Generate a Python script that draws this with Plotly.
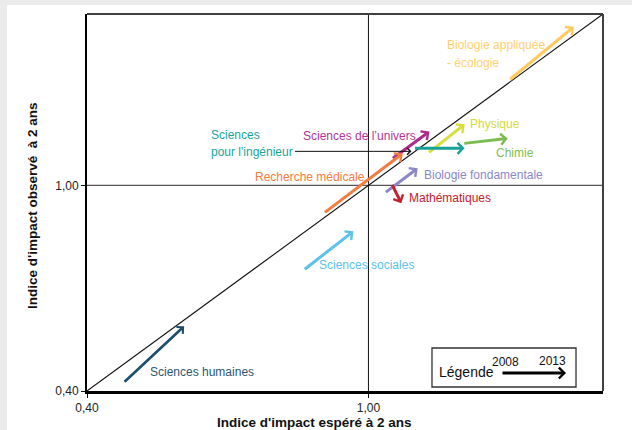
import plotly.graph_objects as go

# Impact indices by discipline, 2008 -> 2013
disciplines = [
    "Biologie appliquée - écologie", "Sciences de l’univers", "Physique",
    "Sciences pour l'ingénieur", "Chimie", "Biologie fondamentale",
    "Mathématiques", "Recherche médicale", "Sciences sociales", "Sciences humaines",
]
expected_2008 = [1.299, 1.049, 1.126, 1.096, 1.201, 1.034, 1.049, 0.904, 0.861, 0.477]
observed_2008 = [1.306, 1.076, 1.093, 1.108, 1.122, 0.977, 1.006, 0.918, 0.752, 0.423]
expected_2013 = [1.438, 1.130, 1.205, 1.205, 1.297, 1.105, 1.070, 1.073, 0.968, 0.607]
observed_2013 = [1.463, 1.157, 1.178, 1.108, 1.137, 1.050, 0.948, 1.093, 0.866, 0.589]
colors = ["#FFC95C", "#AE2A8E", "#D8DE38", "#17A19A", "#7CBC4F",
          "#8B87C8", "#C4202C", "#F47C3E", "#5CC1EC", "#1D4E6D"]
widths = [3, 3, 3, 3, 3, 3, 3, 3, 3, 2.6]

# Text labels: (text, left x, centre y, colour)
labels = [
    ("Biologie appliquée", 1.164, 1.411, "#FFD06E"),
    ("- écologie", 1.164, 1.358, "#FFD06E"),
    ("Sciences de l’univers", 0.857, 1.143, "#B0359A"),
    ("Physique", 1.213, 1.178, "#D2DA3E"),
    ("Chimie", 1.267, 1.093, "#80BE55"),
    ("Biologie fondamentale", 1.115, 1.029, "#8B87C8"),
    ("Mathématiques", 1.083, 0.962, "#C4202C"),
    ("Recherche médicale", 0.754, 1.023, "#F47C3E"),
    ("Sciences", 0.660, 1.146, "#1AA39B"),
    ("pour l'ingénieur", 0.660, 1.096, "#1AA39B"),
    ("Sciences sociales", 0.891, 0.767, "#5CC1EC"),
    ("Sciences humaines", 0.530, 0.455, "#2B5676"),
]

axis_min, axis_max = 0.4, 1.5
tick_vals = [0.4, 1.0]
tick_text = ["0,40", "1,00"]

fig = go.Figure()
# invisible trace so the axes are created
fig.add_trace(go.Scatter(x=[axis_min, axis_max], y=[axis_min, axis_max],
                         mode="markers", marker=dict(opacity=0), hoverinfo="skip",
                         showlegend=False))

shapes = [
    # white card on the grey page
    dict(type="rect", xref="paper", yref="paper", x0=-0.155, x1=1.07, y0=-0.12, y1=1.024,
         fillcolor="white", line=dict(width=0), layer="below"),
    # reference lines
    dict(type="line", xref="x", yref="y", x0=1.0, x1=1.0, y0=axis_min, y1=axis_max,
         line=dict(color="#111111", width=1)),
    dict(type="line", xref="x", yref="y", x0=axis_min, x1=axis_max, y0=1.0, y1=1.0,
         line=dict(color="#555555", width=1.3)),
    dict(type="line", xref="x", yref="y", x0=axis_min, x1=axis_max, y0=axis_min, y1=axis_max,
         line=dict(color="#111111", width=1.1)),
    # top / right frame
    dict(type="line", xref="paper", yref="paper", x0=0, x1=1, y0=1, y1=1,
         line=dict(color="#404040", width=2)),
    dict(type="line", xref="paper", yref="paper", x0=1, x1=1, y0=0, y1=1,
         line=dict(color="#404040", width=2)),
    # key box
    dict(type="rect", xref="paper", yref="paper", x0=0.6686, x1=0.9477, y0=0.0106, y1=0.114,
         fillcolor="white", line=dict(color="#333333", width=1.3)),
]

annotations = []
for i in range(len(disciplines)):
    annotations.append(dict(
        x=expected_2013[i], y=observed_2013[i], xref="x", yref="y",
        ax=expected_2008[i], ay=observed_2008[i], axref="x", ayref="y",
        text="", showarrow=True, arrowhead=4, arrowsize=0.7,
        arrowwidth=widths[i], arrowcolor=colors[i],
    ))

for txt, lx, ly, col in labels:
    annotations.append(dict(x=lx, y=ly, xref="x", yref="y", text=txt, showarrow=False,
                            xanchor="left", yanchor="middle",
                            font=dict(size=12, color=col)))

# leader from the "pour l'ingénieur" label to its arrow
spi = disciplines.index("Sciences pour l'ingénieur")
annotations.append(dict(x=expected_2008[spi], y=observed_2008[spi], xref="x", yref="y",
                        ax=-118, ay=0, text="", showarrow=True, arrowhead=4, arrowsize=1.3,
                        arrowwidth=1, arrowcolor="#111111", xshift=-2, yshift=-3))

# key
annotations += [
    dict(x=0.6783, y=0.0504, xref="paper", yref="paper", text="Légende", showarrow=False,
         xanchor="left", yanchor="middle", font=dict(size=14, color="#111111")),
    dict(x=0.812, y=0.0769, xref="paper", yref="paper", text="2008", showarrow=False,
         xanchor="center", yanchor="middle", font=dict(size=12, color="#111111")),
    dict(x=0.9031, y=0.0796, xref="paper", yref="paper", text="2013", showarrow=False,
         xanchor="center", yanchor="middle", font=dict(size=12, color="#111111")),
    dict(x=0.9283, y=0.0477, xref="paper", yref="paper", ax=-65, ay=0, text="",
         showarrow=True, arrowhead=4, arrowsize=0.7, arrowwidth=3, arrowcolor="#000000"),
]

# axis titles
annotations += [
    dict(x=0.44, y=-0.0845, xref="paper", yref="paper", text="<b>Indice d'impact espéré à 2 ans</b>",
         showarrow=False, xanchor="center", yanchor="middle",
         font=dict(size=13.5, color="#111111")),
    dict(x=-0.1047, y=0.4934, xref="paper", yref="paper",
         text="<b>Indice d'impact observé  à 2 ans</b>", textangle=-90,
         showarrow=False, xanchor="center", yanchor="middle",
         font=dict(size=13.5, color="#111111")),
]

axis_common = dict(range=[axis_min, axis_max], tickvals=tick_vals, ticktext=tick_text,
                   ticks="outside", ticklen=4, tickcolor="#111111", showgrid=False,
                   zeroline=False, showline=True, linecolor="#000000",
                   tickfont=dict(size=12, color="#222222"), fixedrange=True)

fig.update_layout(
    width=632, height=430,
    margin=dict(l=87, r=29, t=14, b=39),
    paper_bgcolor="#EBEBEB", plot_bgcolor="rgba(0,0,0,0)",
    font=dict(family="Arial, Liberation Sans, sans-serif"),
    xaxis=dict(axis_common, linewidth=3, ticklabelstandoff=0),
    yaxis=dict(axis_common, linewidth=2),
    shapes=shapes, annotations=annotations, showlegend=False,
)

fig.write_html("out.html")
